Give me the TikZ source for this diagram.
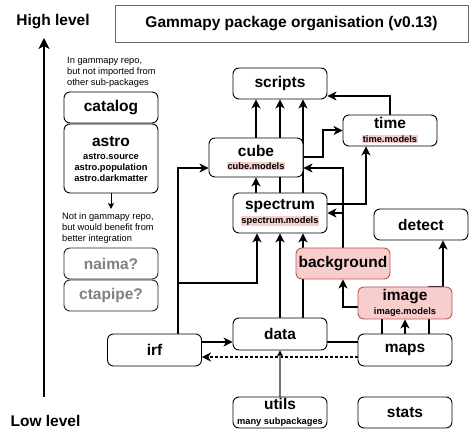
\documentclass[tikz,border=0pt]{standalone}
\usepackage{fontspec}
\setmainfont{Liberation Sans}
\usetikzlibrary{calc,arrows.meta}
\definecolor{pinkfill}{HTML}{F8CECC}
\definecolor{pinkdraw}{HTML}{B85450}
\definecolor{hlpink}{HTML}{F8CECC}
\newcommand\bigf{\fontsize{15.5}{13}\selectfont\bfseries}
\newcommand\smf{\fontsize{9.3}{13}\selectfont\bfseries}
\newcommand\notef{\fontsize{9.3}{11}\selectfont}
\newcommand\hlt[1]{{\setlength{\fboxsep}{0.8pt}\colorbox{hlpink}{#1}}}
\pgfdeclarelayer{bg}
\pgfsetlayers{bg,main}
\tikzset{
  box/.style={draw=black, line width=0.9pt, rounded corners=6pt, fill=white,
    inner sep=0pt, minimum width=94pt, minimum height=31pt, align=center, font=\bigf},
  pinkbox/.style={box, fill=pinkfill, draw=pinkdraw},
  greybox/.style={box, text=black!50, draw=black!85},
  tip/.style={-{Stealth[length=9pt,width=9pt,inset=2.5pt]}},
  conn/.style={line width=2pt, tip},
  plainconn/.style={line width=2pt},
  dotconn/.style={line width=2pt, dash pattern=on 2.5pt off 2.5pt, tip},
  greyconn/.style={line width=1.5pt, black!55, -{Stealth[length=6pt,width=6pt,inset=1.5pt,black]}},
  thinconn/.style={line width=1pt, -{Stealth[length=6pt,width=6pt,inset=1.5pt]}},
  levelarrow/.style={line width=2.5pt, -{Stealth[length=11pt,width=11pt,inset=3pt]}},
  notetext/.style={anchor=west, align=left, font=\notef, inner sep=0pt},
  leveltext/.style={font=\bigf, inner sep=0pt}
}
\begin{document}
\begin{tikzpicture}[x=1pt,y=-1pt]
\useasboundingbox (0,0) rectangle (474,435);

% level axis
\node[leveltext] (high) at (53,22) {High level};
\node[leveltext] (low) at (45.5,421) {Low level};
\coordinate (lowend) at (44,397);
\coordinate (highend) at (44,38);
\draw[levelarrow] (lowend) -- (highend);

% title
\node[draw=black!60, line width=0.9pt, minimum width=353pt, minimum height=37pt,
  inner sep=0pt, font=\bigf] (title) at (291.5,23.5) {Gammapy package organisation (v0.13)};

% left column
\node[notetext] (note1) at (67,72.5) {In gammapy repo,\\but not imported from\\other sub-packages};
\node[box] (catalog) at (111,107.5) {catalog};
\node[box, minimum height=69pt] (astro) at (111,158.5)
  {astro\\\smf astro.source\\[-2pt]\smf astro.population\\[-2pt]\smf astro.darkmatter};
\coordinate (astroarrow) at (111,209);
\node[notetext] (note2) at (62,228) {Not in gammapy repo,\\but would benefit from\\better integration};
\node[greybox] (naima) at (111,263.5) {naima?};
\node[greybox] (ctapipe) at (111,295.5) {ctapipe?};

% main nodes
\node[box] (scripts) at (280,83.5) {scripts};
\node[box] (time) at (390,130.5) {time\\[0.5pt]\smf\hlt{time.models}};
\node[box, minimum height=39pt] (cube) at (256,157.5) {cube\\\smf\hlt{cube.models}};
\node[box, minimum height=40pt] (spectrum) at (280,213) {spectrum\\[1pt]\smf\hlt{spectrum.models}};
\node[box] (detect) at (421,224.5) {detect};
\node[pinkbox] (background) at (343,263.5) {background};
\node[pinkbox, minimum height=32pt] (image) at (405,303) {image\\[1pt]\smf image.models};
\node[box, minimum height=32pt] (irf) at (154.5,350) {irf};
\node[box, minimum height=32pt] (data) at (280,334) {data};
\node[box, minimum height=32pt] (maps) at (405,350) {maps};
\node[box] (utils) at (280,412.5) {utils\\[2pt]\smf many subpackages};
\node[box] (stats) at (405,412.5) {stats};

\begin{pgfonlayer}{bg}
  \draw[thinconn] (astro.south) -- (astroarrow);
  % into scripts
  \draw[conn] (cube.north) -- (cube.north |- scripts.south);
  \draw[conn] (spectrum.north) -- (scripts.south);
  \draw[conn] ($(spectrum.north)+(23,0)$) -- ($(scripts.south)+(23,0)$);
  \coordinate (tsin) at ($(scripts.east)+(0,12.5)$);
  \draw[conn] (time.north) |- (tsin);
  % into cube
  \draw[conn] (cube.south |- spectrum.north) -- (cube.south);
  \coordinate (cubein) at ($(cube.west)+(0,10.5)$);
  \draw[conn] ($(irf.north)+(23.5,0)$) |- (cubein);
  \coordinate (cubeinr) at ($(cube.east)+(0,10.5)$);
  \draw[conn] (background.north) |- (cubeinr);
  % into spectrum
  \draw[conn] ($(irf.north)+(23.5,0)$) -- ++(0,-51) -| ($(spectrum.south)+(-23,0)$);
  \draw[conn] (data.north) -- (spectrum.south);
  \draw[conn] ($(data.north)+(23,0)$) -- ($(spectrum.south)+(23,0)$);
  \draw[conn] (background.north |- spectrum.east) -- (spectrum.east);
  % into time
  \draw[conn] (cube.east) -- ++(20,0) |- (time.west);
  \draw[conn] ($(spectrum.east)+(0,-9)$) -| ($(time.south)+(-24,0)$);
  % maps outputs
  \draw[conn] (maps.north) -- (image.south);
  \coordinate (bgturn) at ($(image.west)+(0,4)$);
  \draw[conn] ($(maps.north)+(-23,0)$) |- (bgturn) -| (background.south);
  \coordinate (detturn) at ($(image.north)+(38,0)$);
  \draw[conn] ($(maps.north)+(24,0)$) |- (detturn) -| ($(detect.south)+(22,0)$);
  \coordinate (mdl) at ($(maps.west)+(0,-8)$);
  \draw[plainconn] (mdl) -- (mdl -| data.east);
  \coordinate (mirf) at ($(maps.west)+(0,7)$);
  \draw[dotconn] (mirf) -- (mirf -| irf.east);
  % into data
  \coordinate (idl) at ($(data.west)+(0,8)$);
  \draw[conn] (idl -| irf.east) -- (idl);
  \draw[greyconn] (utils.north) -- (data.south);
\end{pgfonlayer}
\end{tikzpicture}
\end{document}
